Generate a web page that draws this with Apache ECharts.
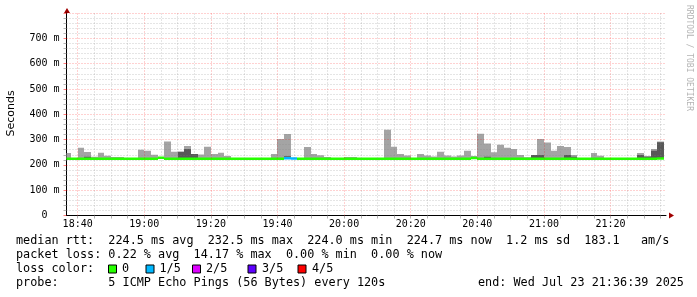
<!DOCTYPE html>
<html><head><meta charset="utf-8">
<script src="https://cdn.jsdelivr.net/npm/echarts@6/dist/echarts.min.js"></script>
<style>html,body{margin:0;padding:0;background:#fff}#c{width:697px;height:297px}</style>
</head><body><div id="c"></div>
<script>
// ---- data (ms), one bin per 2 minutes, first bin starts 18:36 ----
const firstBinStart = '18:36';
const binMinutes = 2;
const endTime = '21:36:39';
const medianMs = [
 224.5,224.5,224.5,224.5,224.5,224.5,224.5,224.5,224.5,224.5,
 224.5,224.5,224.5,224.5,228.0,224.5,224.5,224.5,224.5,224.5,
 224.5,224.5,224.5,224.5,224.5,224.5,224.5,224.5,224.5,224.5,
 224.5,224.5,224.5,226.0,225.5,224.5,224.5,224.5,224.5,224.5,
 224.5,224.5,224.5,224.5,224.5,224.5,224.5,224.5,224.5,224.5,
 224.5,224.5,224.5,224.5,224.5,224.5,224.5,224.5,224.5,224.5,
 224.5,227.0,224.5,224.5,224.5,224.0,224.5,224.5,224.5,224.5,
 224.5,224.5,224.5,224.5,224.5,224.5,224.5,224.5,224.5,224.5,
 224.5,224.5,224.5,224.5,224.5,224.5,224.5,224.5,224.5,224.7];
const maxMs = [
 247,null,268,251,232,248,236,231,231,null,
 null,260,256,240,null,292,252,252,275,243,
 241,272,243,248,235,null,null,null,null,null,
 null,243,302,322,null,null,271,243,238,231,
 null,null,231,231,null,null,null,null,339,272,
 243,237,null,243,237,233,252,237,233,237,
 256,235,323,284,250,280,268,263,239,230,
 239,302,288,256,275,271,239,null,null,247,
 236,null,null,null,null,null,247,235,263,292];
const darkLoMs = [
 null,null,null,224,null,null,null,null,null,null,
 null,null,null,null,null,null,null,224,224,224,
 null,null,null,null,null,null,null,null,null,null,
 null,null,null,224,null,null,null,null,null,null,
 null,null,null,null,null,null,null,null,null,null,
 null,null,null,null,null,null,null,null,null,null,
 null,null,null,224,null,null,null,null,null,null,
 224,224,null,null,null,224,224,null,null,null,
 null,null,null,null,null,null,224,224,224,224];
const darkHiMs = [
 null,null,null,232,null,null,null,null,null,null,
 null,null,null,null,null,null,null,252,263,243,
 null,null,null,null,null,null,null,null,null,null,
 null,null,null,234,null,null,null,null,null,null,
 null,null,null,null,null,null,null,null,null,null,
 null,null,null,null,null,null,null,null,null,null,
 null,null,null,232,null,null,null,null,null,null,
 239,239,null,null,null,239,232,null,null,null,
 null,null,null,null,null,null,239,232,256,289];
const lossCount = [
 0,0,0,0,0,0,0,0,0,0, 0,0,0,0,0,0,0,0,0,0,
 0,0,0,0,0,0,0,0,0,0, 0,0,0,1,1,0,0,0,0,0,
 0,0,0,0,0,0,0,0,0,0, 0,0,0,0,0,0,0,0,0,0,
 0,0,0,0,0,0,0,0,0,0, 0,0,0,0,0,0,0,0,0,0,
 0,0,0,0,0,0,0,0,0,0];
const yTickValues = [0,100,200,300,400,500,600,700,800];
const xTickLabels = ['18:40','19:00','19:20','19:40','20:00','20:20','20:40','21:00','21:20'];
const lossLabels = ['0','1/5','2/5','3/5','4/5'];
const lossColors = ['#26ff00','#00b8ff','#dd00ff','#5e00ff','#ff0000'];
const statLines = [
 'median rtt:  224.5 ms avg  232.5 ms max  224.0 ms min  224.7 ms now  1.2 ms sd  183.1   am/s',
 'packet loss: 0.22 % avg  14.17 % max  0.00 % min  0.00 % now'
];
const probeText = 'probe:       5 ICMP Echo Pings (56 Bytes) every 120s';
const endText = 'end: Wed Jul 23 21:36:39 2025';

// ---- helpers ----
function toMin(s){const p=s.split(':').map(Number);return p[0]*60+p[1]+(p[2]||0)/60;}
function fmtMin(v){const h=Math.floor(v/60),m=Math.round(v-h*60);return String(h).padStart(2,'0')+':'+String(m).padStart(2,'0');}
const endMin = toMin(endTime), startMin = endMin - 180;
const bin0 = toMin(firstBinStart);
const seriesData = medianMs.map((m,i)=>[
  bin0 + i*binMinutes, m,
  maxMs[i]==null ? m : maxMs[i],
  darkLoMs[i]==null ? 0 : darkLoMs[i],
  darkHiMs[i]==null ? 0 : darkHiMs[i],
  lossCount[i]
]);
const majorX = xTickLabels.map(toMin);
const minorX = [];
for (let v=Math.ceil(startMin/5)*5; v<endMin; v+=5) if (!majorX.includes(v)) minorX.push(v);
const minorY = [];
for (let v=20; v<=800; v+=20) if (v%100!==0) minorY.push(v);
const gridGray = 'rgba(128,128,128,0.42)', gridRed = 'rgba(255,0,0,0.36)';
const mono = '"DejaVu Sans Mono", monospace';
const statFont = '11.8px ' + mono;

function renderSmoke(params, api){
  const t0 = api.value(0), t1 = t0 + binMinutes;
  const med = api.value(1), mx = api.value(2), dlo = api.value(3), dhi = api.value(4), loss = api.value(5);
  const cs = params.coordSys;
  const clip = {x:cs.x, y:cs.y, width:cs.width, height:cs.height};
  const kids = [];
  function band(lo, hi, fill){
    if (!(hi > lo)) return;
    const a = api.coord([t0, hi]), b = api.coord([t1, lo]);
    const x0 = Math.round(a[0]), x1 = Math.round(b[0]);
    const r = echarts.graphic.clipRectByRect({x:x0, y:a[1], width:x1-x0, height:b[1]-a[1]}, clip);
    if (r) kids.push({type:'rect', shape:r, style:{fill:fill}});
  }
  band(med, mx, '#a4a4a4');
  band(dlo, dhi, '#585858');
  const m0 = api.coord([t0, med]), m1 = api.coord([t1, med]);
  const x0 = Math.round(m0[0]), x1 = Math.round(m1[0]);
  const lr = echarts.graphic.clipRectByRect({x:x0, y:m0[1]-1.25, width:x1-x0, height:2.5}, clip);
  if (lr) kids.push({type:'rect', shape:lr, style:{fill:lossColors[loss]}});
  return {type:'group', children:kids};
}

const markData = [];
minorX.forEach(v=>markData.push({xAxis:v, lineStyle:{color:gridGray}}));
majorX.forEach(v=>markData.push({xAxis:v, lineStyle:{color:gridRed}}));
minorY.forEach(v=>markData.push({yAxis:v, lineStyle:{color:gridGray}}));
yTickValues.filter(v=>v>0).forEach(v=>markData.push({yAxis:v, lineStyle:{color:gridRed}}));

const chart = echarts.init(document.getElementById('c'), null, {renderer:'canvas'});
const graphics = [
  {type:'text', x:11, y:113.5, rotation:Math.PI/2, style:{text:'Seconds', font:'11px "DejaVu Sans"', fill:'#000', align:'center', verticalAlign:'middle'}},
  {type:'text', x:689, y:58, rotation:-Math.PI/2, style:{text:'RRDTOOL / TOBI OETIKER', font:'8px '+mono, fill:'#b4b4b4', align:'center', verticalAlign:'middle'}},
  {type:'text', x:16, y:241, style:{text:statLines[0], font:statFont, fill:'#000', verticalAlign:'middle'}},
  {type:'text', x:16, y:255, style:{text:statLines[1], font:statFont, fill:'#000', verticalAlign:'middle'}},
  {type:'text', x:16, y:268.7, style:{text:'loss color:', font:statFont, fill:'#000', verticalAlign:'middle'}},
  {type:'text', x:16, y:283, style:{text:probeText, font:statFont, fill:'#000', verticalAlign:'middle'}},
  {type:'text', x:478, y:283, style:{text:endText, font:statFont, fill:'#000', verticalAlign:'middle'}},
  {type:'polygon', shape:{points:[[64,13],[70,13],[67,8]]}, style:{fill:'#a00000'}},
  {type:'polygon', shape:{points:[[669,212.5],[669,218.5],[674,215.5]]}, style:{fill:'#a00000'}}
];
const boxX = [108.5,146,192.5,248,298];
const labX = [122,159.5,206,262,312];
lossLabels.forEach((l,i)=>{
  graphics.push({type:'rect', shape:{x:boxX[i], y:265, width:8, height:8}, style:{fill:lossColors[i], stroke:'#000', lineWidth:1}});
  graphics.push({type:'text', x:labX[i], y:268.7, style:{text:l, font:statFont, fill:'#000', verticalAlign:'middle'}});
});

chart.setOption({
  animation:false,
  backgroundColor:'#fff',
  grid:{left:66.5, right:31, top:13, bottom:81.5, containLabel:false},
  xAxis:{type:'value', min:startMin, max:endMin,
    axisLine:{lineStyle:{color:'#000', width:1}},
    axisTick:{show:true, length:3, customValues:majorX.concat(minorX), lineStyle:{color:'rgba(128,128,128,0.6)'}},
    axisLabel:{customValues:majorX, formatter:v=>fmtMin(v), color:'#000', fontFamily:mono, fontSize:10, margin:4},
    splitLine:{show:false}},
  yAxis:{type:'value', min:0, max:800, interval:100,
    axisLine:{show:true, lineStyle:{color:'#000', width:1}},
    axisTick:{show:true, length:3, lineStyle:{color:'rgba(255,0,0,0.5)'}},
    minorTick:{show:true, splitNumber:5, length:3, lineStyle:{color:'rgba(128,128,128,0.6)'}},
    axisLabel:{color:'#000', fontFamily:mono, fontSize:10, margin:7,
      formatter:v=> v===0 ? '0\u00a0\u00a0' : (v>=800 ? '' : v+' m')},
    splitLine:{show:false}, minorSplitLine:{show:false}},
  series:[
    {type:'custom', renderItem:renderSmoke, data:seriesData, encode:{x:0,y:[1,2]}, z:2, clip:true, silent:true},
    {type:'line', data:[], z:10, silent:true,
      markLine:{silent:true, symbol:['none','none'], animation:false, label:{show:false},
        lineStyle:{type:[1,2], width:1}, emphasis:{disabled:true}, data:markData}}
  ],
  graphic:graphics
});
</script></body></html>
